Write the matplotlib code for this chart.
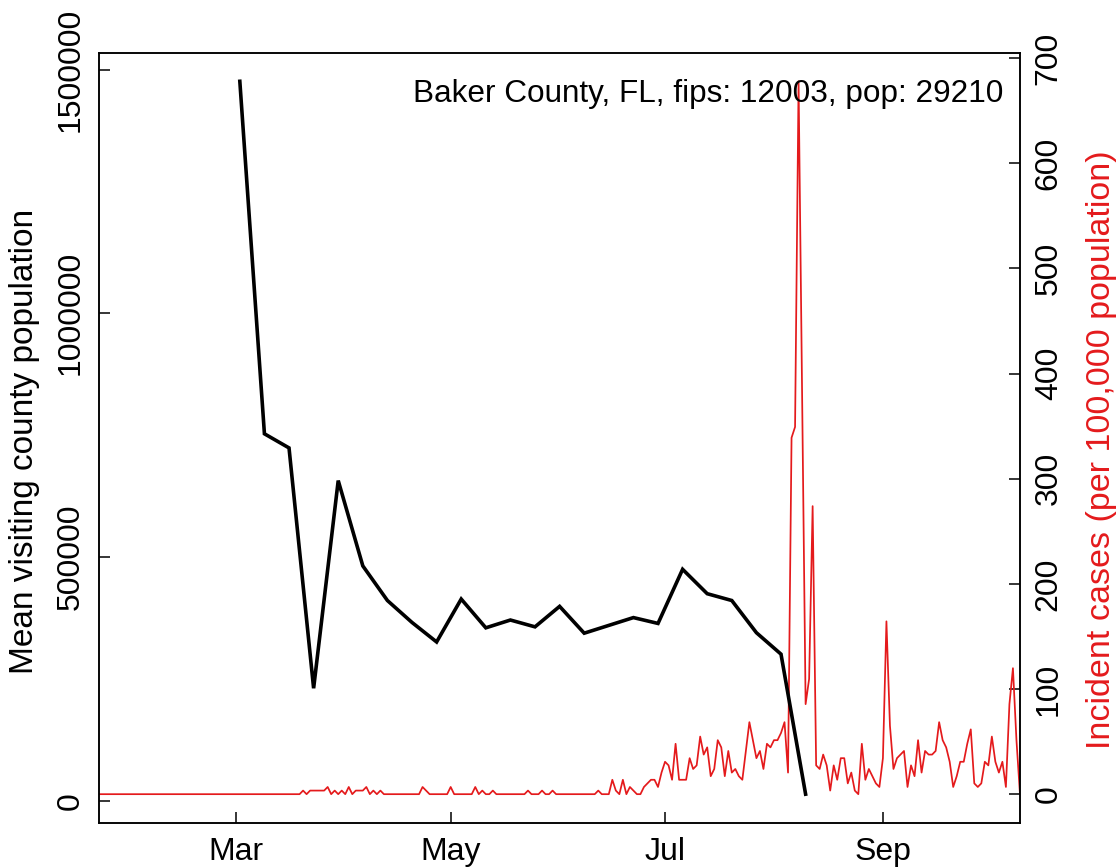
import matplotlib
matplotlib.use("Agg")
import matplotlib.pyplot as plt
import matplotlib.dates as mdates
import pandas as pd

plt.rcParams['font.family'] = ['Liberation Sans', 'DejaVu Sans']

county_label = "Baker County, FL, fips: 12003, pop: 29210"
population = 29210

# weekly mean visiting county population, Mondays from 2020-03-02
visit_start = "2020-03-02"
mean_visiting = [1476000, 753000, 724000, 231000, 657000, 482000, 411000, 366000,
                 326000, 414000, 355000, 371000, 357000, 399000, 344000, 360000,
                 376000, 364000, 475000, 425000, 411000, 345000, 301000, 13800]

# daily new cases, from 2020-01-22 to 2020-10-10
case_start = "2020-01-22"
daily_cases = [
    0, 0, 0, 0, 0, 0, 0, 0, 0, 0, 0, 0, 0, 0, 0, 0, 0, 0, 0, 0,
    0, 0, 0, 0, 0, 0, 0, 0, 0, 0, 0, 0, 0, 0, 0, 0, 0, 0, 0, 0,
    0, 0, 0, 0, 0, 0, 0, 0, 0, 0, 0, 0, 0, 0, 0, 0, 0, 0,
    1, 0, 1, 1, 1, 1, 1, 2, 0, 1, 0, 1, 0, 2, 0, 1, 1, 1, 2, 0, 1, 0, 1,
    0, 0, 0, 0, 0, 0, 0, 0, 0, 0, 0,
    2, 1, 0, 0, 0, 0, 0, 0, 2, 0, 0, 0, 0, 0, 0, 2, 0, 1, 0, 0, 1,
    0, 0, 0, 0, 0, 0, 0, 0, 0, 1, 0, 0, 0, 1, 0, 0, 1,
    0, 0, 0, 0, 0, 0, 0, 0, 0, 0, 0, 0, 1, 0, 0, 0,
    4, 1, 0, 4, 0, 2, 1, 0, 0, 2, 3, 4, 4, 2, 6, 9, 8, 4, 14, 4,
    4, 4, 10, 7, 8, 16, 11, 13, 5, 7, 15, 13, 5, 12, 6, 7, 5, 4, 12, 20,
    15, 10, 12, 7, 14, 13, 15, 15, 17, 20, 6, 99, 102, 198, 112, 25, 32, 80, 8, 7,
    11, 8, 1, 8, 4, 10, 10, 3, 6, 1, 0, 14, 4, 7, 5, 3, 2, 10, 48, 19,
    7, 10, 11, 12, 2, 8, 5, 15, 6, 12, 11, 11, 12, 20, 15, 13, 9, 2, 5, 9,
    9, 14, 18, 3, 2, 3, 9, 8, 16, 9, 6, 9, 2, 25, 35, 15, 0,
]

red = "#E41A1C"


def r_range(values):
    # R's default 4% padding on each side
    lo, hi = min(values), max(values)
    pad = 0.04 * (hi - lo)
    return lo - pad, hi + pad


visit_dates = pd.date_range(visit_start, periods=len(mean_visiting), freq="7D")
case_dates = pd.date_range(case_start, periods=len(daily_cases), freq="D")
incidence = [c * 100000 / population for c in daily_cases]

fig = plt.figure(figsize=(11.19, 8.68), dpi=100)
ax1 = fig.add_axes([0.0887, 0.0522, 0.8228, 0.8870])
ax2 = ax1.twinx()

ax1.plot(visit_dates, mean_visiting, color="black", lw=2.6, solid_joinstyle="miter")
ax2.plot(case_dates, incidence, color=red, lw=1.25)

ax1.set_zorder(ax2.get_zorder() + 1)
ax1.patch.set_visible(False)

ax1.set_xlim(case_dates[0], case_dates[-1])
ax1.set_ylim(*r_range(mean_visiting))
ax2.set_ylim(*r_range(incidence))

fs = 23
ax1.xaxis.set_major_locator(mdates.MonthLocator(bymonth=[3, 5, 7, 9]))
ax1.xaxis.set_major_formatter(mdates.DateFormatter("%b"))
ax1.set_yticks([0, 500000, 1000000, 1500000])
ax1.set_yticklabels(["0", "500000", "1000000", "1500000"], rotation=90, va="center")
ax2.set_yticks(range(0, 701, 100))
ax2.set_yticklabels([str(v) for v in range(0, 701, 100)], rotation=90, va="center")

for ax in (ax1, ax2):
    ax.tick_params(direction="in", length=8, width=1.1, labelsize=fs, pad=10)
    for s in ax.spines.values():
        s.set_linewidth(1.1)

ax1.set_ylabel("Mean visiting county population", fontsize=24)
ax1.yaxis.set_label_coords(-0.0644, 0.495)
ax2.set_ylabel("Incident cases (per 100,000 population)", fontsize=24.5, color=red,
               rotation=90)
ax2.yaxis.set_label_coords(1.0717, 0.485)

ax1.text(0.9815, 0.9467, county_label, transform=ax1.transAxes, ha="right",
         va="center", fontsize=22.7)

fig.savefig("out.png", dpi=100)
plt.close(fig)
